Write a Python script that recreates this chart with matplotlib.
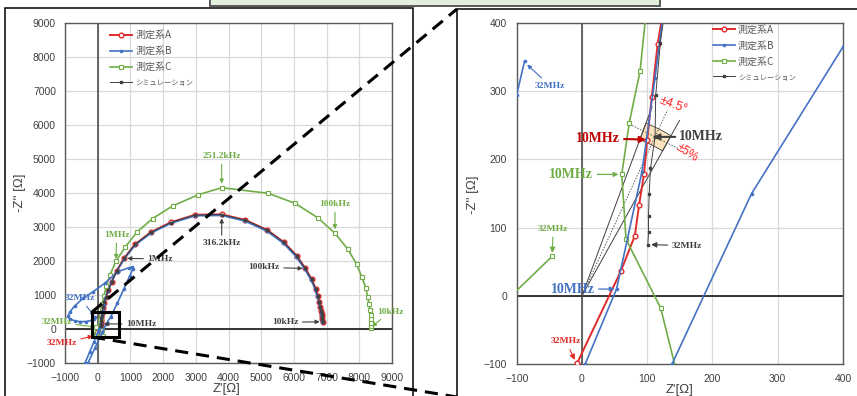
import numpy as np
import matplotlib
matplotlib.use("Agg")
import matplotlib.pyplot as plt
from matplotlib.lines import Line2D
from matplotlib.patches import Rectangle, Polygon

W, H = 857, 396

RED = "#e02b2b"
BLUE = "#4472c4"
GREEN = "#70ad47"
SIM = "#404040"
DARK_RED = "#c00000"

# 測定系A : 10 kHz .. 31.6 MHz, 10 points per decade
a_re = [6878, 6868, 6860, 6850, 6838, 6808, 6777, 6728, 6667, 6544, 6349,
        6085, 5697, 5187, 4514, 3792,
        2976, 2232, 1620, 1141, 804,
        580, 427, 324, 250, 195, 160, 135, 116, 107, 100,
        95, 87.5, 81, 60, -7]
a_im = [215, 290, 370, 450, 538, 656, 803, 980, 1186, 1462, 1785,
        2156, 2550, 2912, 3206, 3374,
        3360, 3138, 2844, 2491, 2079,
        1706, 1391, 1147, 950, 770, 610, 480, 369, 292, 229,
        178, 133, 88, 37, -98]

# 測定系B : semicircle, then the high-frequency loop
b_re = [6870, 6860, 6850, 6840, 6825, 6795, 6762, 6712, 6650, 6525, 6330,
        6065, 5680, 5170, 4500, 3790,
        2980, 2240, 1630, 1150, 812,
        575, 420, 310, 235, 180, 148, 128, 112, 92, 53,
        5, -117, -250, -388, -460, -470, -420, -340, -297, -80, 138,
        260, 400, 600, 800, 980, 1070, 1060, 950, 620, 223, -150, -440,
        -700, -847, -900, -860, -700, -540, -350, -180, -100, -88]
b_im = [200, 275, 355, 435, 520, 640, 785, 960, 1165, 1440, 1760,
        2130, 2520, 2880, 3175, 3340,
        3330, 3110, 2820, 2470, 2060,
        1690, 1370, 1110, 900, 720, 570, 440, 320, 182, 10,
        -100, -380, -690, -1000, -1180, -1280, -1300, -1200, -1000, -550, -100,
        150, 365, 760, 1180, 1560, 1760, 1810, 1800, 1690, 1350, 1090, 910,
        680, 510, 380, 300, 240, 215, 220, 255, 295, 344]

# 測定系C
c_re = [8358, 8358, 8355, 8352, 8343, 8327, 8297, 8257, 8196, 8073, 7920,
        7645, 7257, 6728, 6034, 5217, 3792,
        3078, 2293, 1680, 1200, 850, 560,
        380, 265, 190, 145, 118, 102, 89, 72.5, 61,
        67.5, 120.6, 168, -60, -130, -45.5]
c_im = [38, 100, 190, 290, 410, 559, 735, 950, 1215, 1538, 1903,
        2353, 2815, 3274, 3697, 3991, 4156,
        3950, 3620, 3250, 2850, 2420, 2000,
        1600, 1260, 970, 740, 570, 450, 329, 254, 178,
        83, -18, -200, -210, -20, 58]

# シミュレーション
s_re = [6878, 6868, 6860, 6850, 6838, 6808, 6777, 6728, 6667, 6544, 6349,
        6085, 5697, 5187, 4514, 3792,
        2976, 2232, 1620, 1141, 804,
        580, 430, 330, 255, 200, 165, 140, 120, 113, 112,
        105, 103, 102, 102, 101]
s_im = [212, 287, 367, 447, 535, 653, 800, 977, 1183, 1459, 1782,
        2153, 2547, 2909, 3203, 3365,
        3352, 3132, 2840, 2488, 2077,
        1706, 1395, 1150, 955, 790, 640, 510, 370, 294, 233,
        187, 150, 117, 93, 75]

# tolerance around the simulated 10 MHz point
I_10M = 30
ANG_TOL = 4.5
MAG_TOL = 0.05

plt.rcParams["font.family"] = ["Liberation Sans", "DejaVu Sans"]
LEG_FONT = ["Noto Sans CJK JP", "DejaVu Sans"]
SERIF = "Liberation Serif"

fig = plt.figure(figsize=(W / 100, H / 100), dpi=100)


def fx(px):
    return px / W


def fy(py):
    return 1 - py / H


def axes_at(x0, y0, x1, y1):
    return fig.add_axes([fx(x0), fy(y1), (x1 - x0) / W, (y1 - y0) / H])


def setup(ax, lo, hi, step, ypad):
    ax.set_xlim(lo, hi)
    ax.set_ylim(lo, hi)
    ticks = np.arange(lo, hi + 1, step)
    ax.set_xticks(ticks)
    ax.set_yticks(ticks)
    ax.grid(True, color="#d9d9d9", lw=0.9)
    ax.set_axisbelow(True)
    ax.tick_params(length=0, labelsize=7.5, colors="#404040")
    ax.tick_params(axis="y", pad=ypad)
    ax.tick_params(axis="x", pad=7)
    for s in ax.spines.values():
        s.set_color("#595959")
        s.set_linewidth(1.0)
    ax.axhline(0, color="#262626", lw=1.3, zorder=1.2)
    ax.axvline(0, color="#404040", lw=1.1, zorder=1.2)


def plot_series(ax):
    ax.plot(a_re, a_im, color=RED, lw=1.4, marker="o", ms=3.4, mfc="white",
            mec=RED, mew=1.0, label="測定系A", zorder=3)
    ax.plot(b_re, b_im, color=BLUE, lw=1.2, marker="o", ms=1.6, mfc=BLUE,
            mec=BLUE, label="測定系B", zorder=3.2)
    ax.plot(c_re, c_im, color=GREEN, lw=1.2, marker="s", ms=2.6, mfc="white",
            mec=GREEN, mew=0.8, label="測定系C", zorder=3.1)
    ax.plot(s_re, s_im, color=SIM, lw=0.7, marker="s", ms=1.6, mfc=SIM,
            mec=SIM, label="シミュレーション", zorder=3.3)


def legend(ax, x, y):
    leg = ax.legend(loc="upper left", bbox_to_anchor=(x, y), frameon=False,
                    prop={"family": LEG_FONT, "size": 7.2}, handlelength=2.2,
                    handletextpad=0.3, labelspacing=0.6, borderpad=0,
                    borderaxespad=0, numpoints=1)
    for t in leg.get_texts():
        t.set_color("#595959")
    leg.get_texts()[3].set_fontsize(5.2)
    return leg


def note(ax, text, xy, xytext, color, size=6.8, head=6, lw=0.8, acolor=None):
    ax.annotate(text, xy=xy, xytext=xytext, ha="center", va="center",
                color=color, fontsize=size, fontweight="bold", family=SERIF,
                arrowprops=dict(arrowstyle="-|>", color=acolor or color, lw=lw,
                                mutation_scale=head, shrinkA=1, shrinkB=0),
                annotation_clip=False, zorder=6)


# left panel: full Nyquist plot
axl = axes_at(65, 23, 392, 363)
setup(axl, -1000, 9000, 1000, 6.5)
plot_series(axl)
legend(axl, 0.138, 0.979)

note(axl, "251.2kHz", (c_re[16], c_im[16] + 120), (3792, 5088), GREEN)
note(axl, "100kHz", (c_re[12], c_im[12] + 120), (7257, 3676), GREEN)
note(axl, "10kHz", (c_re[0] + 30, c_im[0] + 30), (8939, 509), GREEN)
note(axl, "1MHz", (c_re[22], c_im[22] + 60), (580, 2765), GREEN)
note(axl, "32MHz", (c_re[-1] - 20, c_im[-1]), (-1254, 200), GREEN)
note(axl, "32MHz", (a_re[-1] - 140, a_im[-1] - 110), (-1101, -421), RED)
note(axl, "32MHz", (b_re[-1] - 10, b_im[-1] + 40), (-540, 900), BLUE)
note(axl, "316.2kHz", (s_re[15], s_im[15] - 110), (3792, 2521), SIM)
note(axl, "1MHz", (s_re[20] + 100, s_im[20]), (1916, 2059), SIM)
note(axl, "100kHz", (s_re[10] - 80, s_im[10]), (5088, 1814), SIM)
note(axl, "10kHz", (s_re[0] - 90, s_im[0]), (5728, 197), SIM)
note(axl, "10MHz", (200, 150), (1335, 147), SIM)

# right panel: zoom near the origin
axr = axes_at(516.7, 23, 843, 364)
setup(axr, -100, 400, 100, 7)

sx, sy = s_re[I_10M], s_im[I_10M]
r0 = np.hypot(sx, sy)
th0 = np.degrees(np.arctan2(sy, sx))
th = np.radians(np.linspace(th0 - ANG_TOL, th0 + ANG_TOL, 12))
outer = np.c_[r0 * (1 + MAG_TOL) * np.cos(th), r0 * (1 + MAG_TOL) * np.sin(th)]
inner = np.c_[r0 * (1 - MAG_TOL) * np.cos(th), r0 * (1 - MAG_TOL) * np.sin(th)]
axr.add_patch(Polygon(np.r_[outer, inner[::-1]], closed=True, fc="#fbe3bc",
                      ec="#404040", lw=0.6, zorder=1.5))
for d in (-ANG_TOL, ANG_TOL):
    t = np.radians(th0 + d)
    axr.plot([0, 1.15 * r0 * np.cos(t)], [0, 1.15 * r0 * np.sin(t)],
             color="#404040", lw=0.7, zorder=1.6)
t = np.radians(th0)
axr.plot([0, 1.17 * r0 * np.cos(t)], [0, 1.17 * r0 * np.sin(t)],
         color="#595959", lw=0.7, ls=(0, (1.5, 1.5)), zorder=1.6)
ux, uy = np.sin(t), -np.cos(t)
axr.plot([sx - 0.15 * r0 * ux, sx + 0.15 * r0 * ux],
         [sy - 0.15 * r0 * uy, sy + 0.15 * r0 * uy],
         color="#595959", lw=0.7, ls=(0, (1.5, 1.5)), zorder=1.6)

plot_series(axr)
legend(axr, 0.6016, 0.995)

axr.text(140, 280, "±4.5°", color="#ff2020", fontsize=9, rotation=-20,
         ha="center", va="center", zorder=6)
axr.text(161, 210, "±5%", color="#ff2020", fontsize=8.5, rotation=-33,
         ha="center", va="center", zorder=6)

note(axr, "32MHz", (b_re[-1] + 4, b_im[-1] - 5), (-49, 308), BLUE)
note(axr, "10MHz", (a_re[I_10M] - 2, a_im[I_10M]), (24.5, 231), DARK_RED,
     size=10, head=9, lw=1.5)
note(axr, "10MHz", (s_re[I_10M] - 3, s_im[I_10M]), (183, 233), SIM,
     size=10, head=9, lw=1.5)
note(axr, "10MHz", (c_re[31] - 5, c_im[31]), (-16.5, 178), GREEN,
     size=10, head=7, lw=0.9)
note(axr, "10MHz", (b_re[I_10M] - 3, b_im[I_10M]), (-14.5, 9.6), BLUE,
     size=10, head=7, lw=0.9)
note(axr, "32MHz", (c_re[-1], c_im[-1] + 5), (-44, 98), GREEN, head=8)
note(axr, "32MHz", (s_re[-1] + 5, s_im[-1]), (161, 73.5), SIM, head=8)
note(axr, "32MHz", (a_re[-1] - 4, a_im[-1] + 4), (-24.5, -67), RED, head=8)

# axis titles
for x, y in ((20, 193), (473, 195)):
    fig.text(fx(x), fy(y), "-Z'' [Ω]", rotation=90, ha="center", va="center",
             fontsize=9.5, color="#404040")
for x, y in ((227, 389), (680, 390)):
    fig.text(fx(x), fy(y), "Z'[Ω]", ha="center", va="center", fontsize=9.5,
             color="#404040")

# panel frames and the caption box above
fig.add_artist(Rectangle((fx(5), -0.1), 408 / W, fy(8) + 0.1, fill=False,
                         ec="black", lw=1.1, zorder=4))
fig.add_artist(Rectangle((fx(457), -0.1), 0.6, fy(9) + 0.1, fill=False,
                         ec="black", lw=1.1, zorder=4))
fig.add_artist(Rectangle((fx(210), fy(6)), 450 / W, 0.1, fc="#e2efda",
                         ec="#595959", lw=1.4, zorder=4))

# zoom marker and the guide lines to the right panel
fig.add_artist(Rectangle((fx(92), fy(337)), 27 / W, 25 / H, fill=False,
                         ec="black", lw=2.2, zorder=7))
dash = (0, (4.3, 2.6))
fig.add_artist(Line2D([fx(92), fx(457)], [fy(312), fy(9)], color="black",
                      lw=2.2, ls=dash, zorder=7))
fig.add_artist(Line2D([fx(92), fx(457)], [fy(337), fy(397)], color="black",
                      lw=2.2, ls=dash, zorder=7))

fig.savefig("out.png", dpi=100)
